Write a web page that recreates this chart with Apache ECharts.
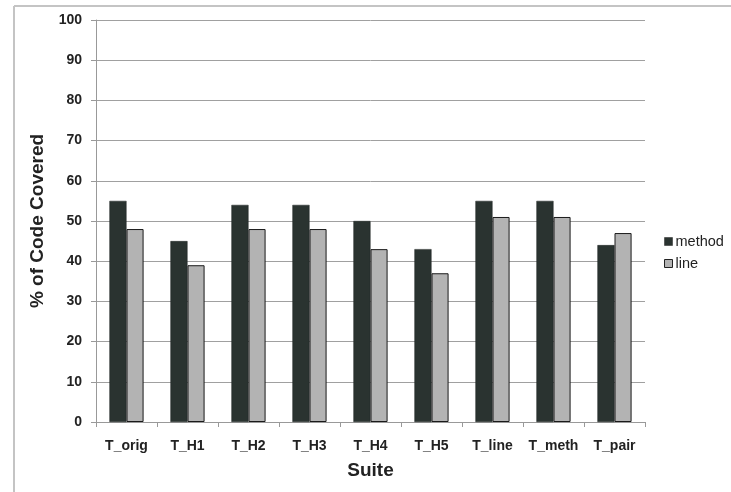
<!DOCTYPE html>
<html>
<head>
<meta charset="utf-8">
<script src="https://cdn.jsdelivr.net/npm/echarts@6/dist/echarts.min.js"></script>
<style>
html,body{margin:0;padding:0;background:#fff;}
#chart{width:731px;height:492px;}
</style>
</head>
<body>
<div id="chart"></div>
<script>
// Coverage per test suite
const suites = ['T_orig', 'T_H1', 'T_H2', 'T_H3', 'T_H4', 'T_H5', 'T_line', 'T_meth', 'T_pair'];
const methodCoverage = [55, 45, 54, 54, 50, 43, 55, 55, 44];
const lineCoverage = [48, 39, 48, 48, 43, 37, 51, 51, 47];
const yTicks = [0, 10, 20, 30, 40, 50, 60, 70, 80, 90, 100];

const font = 'Liberation Sans, Arial, sans-serif';
const chart = echarts.init(document.getElementById('chart'));
chart.setOption({
  animation: false,
  backgroundColor: '#fff',
  // frame edges along the top and left of the chart area
  graphic: [
    { type: 'line', shape: { x1: 14, y1: 6, x2: 731, y2: 6 }, style: { stroke: '#c4c4c4', lineWidth: 2 }, silent: true },
    { type: 'line', shape: { x1: 14, y1: 6, x2: 14, y2: 492 }, style: { stroke: '#c4c4c4', lineWidth: 2 }, silent: true }
  ],
  grid: { left: 96, right: 86, top: 20, bottom: 70 },
  legend: {
    orient: 'vertical',
    left: 664,
    top: 234,
    padding: 0,
    itemWidth: 8,
    itemHeight: 8,
    itemGap: 7,
    icon: 'rect',
    textStyle: { fontFamily: font, fontSize: 14.5, color: '#222', padding: [0, 0, 0, -2] },
    data: [
      { name: 'method', itemStyle: { color: '#2a3330', borderColor: '#222', borderWidth: 0.5 } },
      { name: 'line', itemStyle: { color: '#b3b3b3', borderColor: '#222', borderWidth: 1 } }
    ]
  },
  xAxis: {
    type: 'category',
    data: suites,
    name: 'Suite',
    nameLocation: 'middle',
    nameGap: 39,
    nameTextStyle: { fontFamily: font, fontSize: 19, fontWeight: 'bold', color: '#222' },
    axisLine: { lineStyle: { color: '#999', width: 1 } },
    axisTick: { show: true, interval: 0, length: 5, lineStyle: { color: '#999' } },
    axisLabel: { interval: 0, fontFamily: font, fontSize: 14, fontWeight: 'bold', color: '#222', margin: 17 }
  },
  yAxis: {
    type: 'value',
    min: yTicks[0],
    max: yTicks[yTicks.length - 1],
    interval: 10,
    name: '% of Code Covered',
    nameLocation: 'middle',
    nameGap: 49,
    nameTextStyle: { fontFamily: font, fontSize: 19, fontWeight: 'bold', color: '#222' },
    axisLine: { show: true, lineStyle: { color: '#999', width: 1 } },
    axisTick: { show: true, length: 5, lineStyle: { color: '#999' } },
    axisLabel: { fontFamily: font, fontSize: 14, fontWeight: 'bold', color: '#222', margin: 14 },
    splitLine: { lineStyle: { color: '#a0a0a0', width: 1 } }
  },
  series: [
    {
      name: 'method',
      type: 'bar',
      data: methodCoverage,
      barGap: '0%',
      barCategoryGap: '44%',
      itemStyle: { color: '#2a3330', borderColor: '#1e2522', borderWidth: 0.5 }
    },
    {
      name: 'line',
      type: 'bar',
      data: lineCoverage,
      itemStyle: { color: '#b3b3b3', borderColor: '#1a1a1a', borderWidth: 1 }
    }
  ]
});
</script>
</body>
</html>
